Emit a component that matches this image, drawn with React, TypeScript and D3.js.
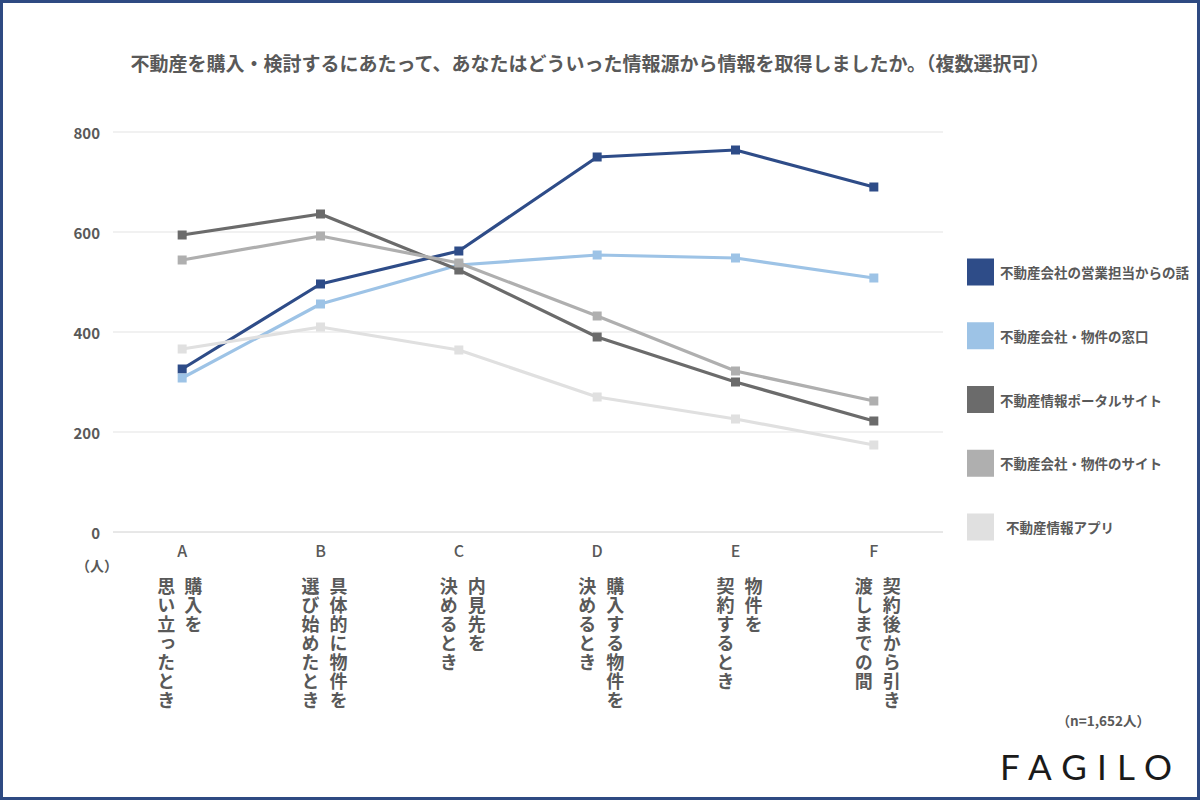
import React from 'react';
import * as d3 from 'd3';

const title = '不動産を購入・検討するにあたって、あなたはどういった情報源から情報を取得しましたか。（複数選択可）';
const categories = ['A', 'B', 'C', 'D', 'E', 'F'];
const categoryLines = [
  ['購入を', '思い立ったとき'],
  ['具体的に物件を', '選び始めたとき'],
  ['内見先を', '決めるとき'],
  ['購入する物件を', '決めるとき'],
  ['物件を', '契約するとき'],
  ['契約後から引き', '渡しまでの間'],
];
const yTicks = [0, 200, 400, 600, 800];
const seriesNames = [
  '不動産会社の営業担当からの話',
  '不動産会社・物件の窓口',
  '不動産情報ポータルサイト',
  '不動産会社・物件のサイト',
  '不動産情報アプリ',
];
const salesTalk = [326, 496, 562, 750, 764, 690];
const counter = [308, 456, 534, 554, 548, 508];
const portal = [594, 636, 524, 390, 300, 222];
const companySite = [544, 592, 538, 432, 322, 262];
const app = [366, 410, 364, 270, 226, 174];
const seriesValues = [salesTalk, counter, portal, companySite, app];
const colors = ['#2E4C88', '#9DC3E6', '#6B6B6B', '#AFAFAF', '#E0E0E0'];
const unitLabel = '（人）';
const nLabel = '（n=1,652人）';
const logo = 'FAGILO';

const FONT = '"Noto Sans CJK JP", "Noto Sans", sans-serif';
const TEXT = '#595959';

export default function App() {
  const x = d3.scaleBand<string>().domain(categories).range([113, 943]).padding(0);
  const y = d3.scaleLinear().domain([0, 800]).range([532, 132]);
  const cx = (c: string) => (x(c) as number) + x.bandwidth() / 2;
  const line = d3
    .line<number>()
    .x((_, i) => cx(categories[i]))
    .y((d) => y(d));

  const legendY = d3.scalePoint<string>().domain(seriesNames).range([272, 527]);
  const vert = { writingMode: 'vertical-rl', textOrientation: 'upright', letterSpacing: '1px' } as any;

  return (
    <svg
      width={1200}
      height={800}
      style={{ position: 'absolute', left: 0, top: 0, background: '#fff' }}
      fontFamily={FONT}
    >
      <rect x={0} y={0} width={1200} height={800} fill="#fff" />
      <rect x={1.5} y={1.5} width={1197} height={797} fill="none" stroke="#2E4A82" strokeWidth={3} />
      <text x={590} y={62} textAnchor="middle" dominantBaseline="central" fontSize={19} fontWeight={700} fill={TEXT}>
        {title}
      </text>

      {yTicks.map((t) => (
        <g key={t}>
          <line x1={113} x2={943} y1={y(t)} y2={y(t)} stroke={t === 0 ? '#D0D0D0' : '#E3E3E3'} strokeWidth={1} />
          <text x={100} y={y(t)} textAnchor="end" dominantBaseline="central" fontSize={15} fontWeight={700} fill={TEXT}>
            {t}
          </text>
        </g>
      ))}
      <text x={97} y={565} textAnchor="middle" dominantBaseline="central" fontSize={14} fontWeight={700} fill={TEXT}>
        {unitLabel}
      </text>

      {categories.map((c, i) => (
        <g key={c}>
          <text x={cx(c)} y={550} textAnchor="middle" dominantBaseline="central" fontSize={16} fontWeight={500} fill={TEXT}>
            {c}
          </text>
          <text x={cx(c) + (i === 0 ? 11 : 18)} y={577} fontSize={18} fontWeight={700} fill={TEXT} style={vert}>
            {categoryLines[i][0]}
          </text>
          <text x={cx(c) - (i === 0 ? 16 : 10)} y={577} fontSize={18} fontWeight={700} fill={TEXT} style={vert}>
            {categoryLines[i][1]}
          </text>
        </g>
      ))}

      {seriesValues.map((vals, si) => (
        <g key={si}>
          <path d={line(vals) as string} fill="none" stroke={colors[si]} strokeWidth={3.2} strokeLinejoin="round" />
          {vals.map((v, i) => (
            <rect key={i} x={cx(categories[i]) - 4.5} y={y(v) - 4.5} width={9} height={9} fill={colors[si]} />
          ))}
        </g>
      ))}

      {seriesNames.map((n, i) => (
        <g key={n}>
          <rect x={967} y={(legendY(n) as number) - 13.5} width={27} height={27} fill={colors[i]} />
          <text
            x={i === 4 ? 1006 : 1000}
            y={legendY(n) as number}
            dominantBaseline="central"
            fontSize={13.5}
            fontWeight={700}
            fill={TEXT}
          >
            {n}
          </text>
        </g>
      ))}

      <text x={1150} y={720} textAnchor="end" dominantBaseline="central" fontSize={13.5} fontWeight={700} fill={TEXT}>
        {nLabel}
      </text>
      <text
        x={1000}
        y={766}
        dominantBaseline="central"
        fontSize={35}
        fontWeight={400}
        fill="#1a1a1a"
        fontFamily="Lato, 'Open Sans', sans-serif"
        textLength={172}
        lengthAdjust="spacing"
      >
        {logo}
      </text>
    </svg>
  );
}
